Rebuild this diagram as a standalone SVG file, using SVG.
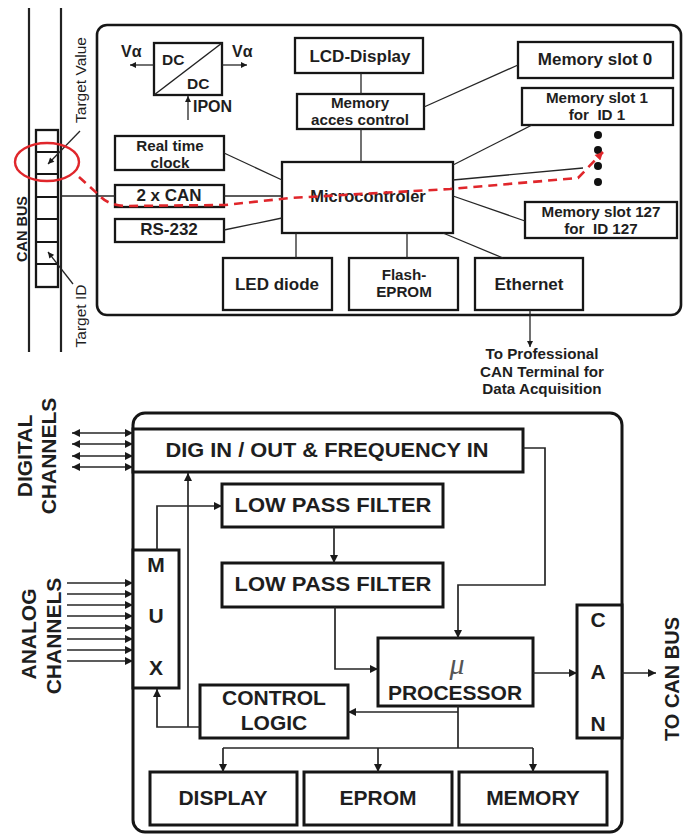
<svg xmlns="http://www.w3.org/2000/svg" width="684" height="836" viewBox="0 0 684 836">
<style>
.box{fill:#fff;stroke:#161616;stroke-width:2.3}
.bbox{fill:#fff;stroke:#161616;stroke-width:3}
.frame{fill:none;stroke:#161616;stroke-width:2.6}
.ln{fill:none;stroke:#262626;stroke-width:1.3}
.bl{fill:none;stroke:#262626;stroke-width:1.7}
.t{font-family:"Liberation Sans",Arial,sans-serif;font-weight:bold;font-size:17px;fill:#1e1e1e;text-anchor:middle}
.t2{font-size:15.2px}
.ts{text-anchor:start}
.tr{font-weight:normal;font-size:15px}
.b{font-size:21px}
.red{fill:none;stroke:#e0262b;stroke-width:2.6;stroke-dasharray:9 6}
</style>
<defs>
<marker id="a" viewBox="0 0 10 10" refX="10" refY="5" markerWidth="9" markerHeight="8" markerUnits="userSpaceOnUse" orient="auto-start-reverse"><path d="M0,0 L10,5 L0,10 z" fill="#1a1a1a"/></marker>
<marker id="as" viewBox="0 0 10 10" refX="10" refY="5" markerWidth="7" markerHeight="6" markerUnits="userSpaceOnUse" orient="auto-start-reverse"><path d="M0,0 L10,5 L0,10 z" fill="#1a1a1a"/></marker>
<marker id="ar" viewBox="0 0 10 10" refX="10" refY="5" markerWidth="9" markerHeight="8" markerUnits="userSpaceOnUse" orient="auto"><path d="M0,0 L10,5 L0,10 z" fill="#e0262b"/></marker>
</defs>

<!-- ===== TOP DIAGRAM ===== -->
<g id="can-bus-lines">
<line x1="29" y1="8" x2="29" y2="352" stroke="#222" stroke-width="2.2"/>
<line x1="61" y1="8" x2="61" y2="352" stroke="#222" stroke-width="2.2"/>
<text class="t" transform="translate(27,229) rotate(-90)" style="font-size:14.5px">CAN BUS</text>
</g>
<g id="register">
<rect x="36" y="130" width="22" height="157" class="box" stroke-width="2"/>
<path d="M36,152H58M36,174H58M36,197H58M36,219H58M36,242H58M36,264H58" stroke="#161616" stroke-width="1.8"/>
</g>
<g id="target-value">
<text class="t tr" transform="translate(86,80) rotate(-90)" style="font-size:15.5px">Target Value</text>
</g>
<g id="target-id">
<text class="t tr" transform="translate(86,316) rotate(-90)" style="font-size:15.5px">Target ID</text>
</g>
<g id="top-frame">
<rect x="97" y="25" width="584" height="290" rx="10" class="frame"/>
</g>
<g id="dcdc">
<rect x="154" y="43" width="68" height="52" class="box" stroke-width="2"/>
<line x1="154" y1="95" x2="222" y2="43" stroke="#222" stroke-width="1.5"/>
<text class="t ts" x="162" y="65" style="font-size:15.5px">DC</text>
<text class="t ts" x="187" y="89" style="font-size:15.5px">DC</text>
<text class="t ts" x="121" y="57" style="font-size:16px">Vα</text>
<text class="t ts" x="232" y="57" style="font-size:16px">Vα</text>
<text class="t ts" x="193" y="112" style="font-size:16px">IPON</text>
</g>
<g id="rtc"><rect x="115" y="136" width="109" height="34" class="box"/><text class="t t2" x="170" y="151">Real time</text><text class="t t2" x="170" y="168">clock</text></g>
<g id="can2"><rect x="115" y="185" width="109" height="22" class="box"/><text class="t" x="169" y="201">2 x CAN</text></g>
<g id="rs232"><rect x="115" y="219" width="109" height="23" class="box"/><text class="t" x="169" y="235">RS-232</text></g>
<g id="lcd"><rect x="295" y="38" width="128" height="35" class="box"/><text class="t" x="360" y="62">LCD-Display</text></g>
<g id="mac"><rect x="297" y="94" width="127" height="35" class="box"/><text class="t t2" x="360" y="108">Memory</text><text class="t t2" x="360" y="125">acces control</text></g>
<g id="micro"><rect x="282" y="162" width="171" height="71" class="box"/><text class="t" x="368" y="202" style="font-size:16.5px">Microcontroler</text></g>
<g id="slot0"><rect x="518" y="42" width="155" height="36" class="box"/><text class="t" x="595" y="65">Memory slot 0</text></g>
<g id="slot1"><rect x="522" y="88" width="151" height="37" class="box"/><text class="t t2" x="597" y="103">Memory slot 1</text><text class="t t2" x="597" y="120" xml:space="preserve">for  ID 1</text></g>
<g id="dots" fill="#111"><circle cx="598" cy="135" r="4"/><circle cx="598" cy="150" r="4"/><circle cx="598" cy="166" r="4"/><circle cx="598" cy="182" r="4"/></g>
<g id="slot127"><rect x="525" y="202" width="152" height="36" class="box"/><text class="t t2" x="601" y="217">Memory slot 127</text><text class="t t2" x="601" y="234" xml:space="preserve">for  ID 127</text></g>
<g id="led"><rect x="223" y="258" width="109" height="52" class="box"/><text class="t" x="277" y="290">LED diode</text></g>
<g id="flash"><rect x="349" y="258" width="109" height="52" class="box"/><text class="t t2" x="404" y="280">Flash-</text><text class="t t2" x="404" y="297">EPROM</text></g>
<g id="ethernet"><rect x="475" y="258" width="108" height="52" class="box"/><text class="t" x="529" y="290">Ethernet</text></g>
<g id="terminal"><text class="t t2" x="542" y="359">To Professional</text><text class="t t2" x="542" y="376.5">CAN Terminal for</text><text class="t t2" x="542" y="394">Data Acquisition</text></g>

<g id="top-connectors">
<line x1="154" y1="65" x2="130" y2="65" class="ln" marker-end="url(#as)"/>
<line x1="222" y1="65" x2="247" y2="65" class="ln" marker-end="url(#as)"/>
<line x1="188" y1="120" x2="188" y2="96" class="ln" marker-end="url(#as)"/>
<line x1="80" y1="131" x2="48" y2="164" class="ln" marker-end="url(#as)"/>
<line x1="73" y1="284" x2="48" y2="252" class="ln" marker-end="url(#as)"/>
<line x1="61" y1="196" x2="115" y2="196" class="ln"/>
<line x1="224" y1="153" x2="282" y2="180" class="ln"/>
<line x1="224" y1="196" x2="282" y2="196" class="ln"/>
<line x1="224" y1="230" x2="282" y2="218" class="ln"/>
<line x1="361" y1="73" x2="361" y2="94" class="ln"/>
<line x1="361" y1="129" x2="361" y2="162" class="ln"/>
<line x1="424" y1="107" x2="518" y2="65" class="ln"/>
<line x1="532" y1="125" x2="453" y2="165" class="ln"/>
<line x1="453" y1="180" x2="583" y2="168" class="ln"/>
<line x1="453" y1="196" x2="525" y2="221" class="ln"/>
<line x1="443" y1="233" x2="503" y2="258" class="ln"/>
<line x1="296" y1="233" x2="296" y2="258" class="ln"/>
<line x1="407" y1="233" x2="407" y2="258" class="ln"/>
<line x1="530" y1="310" x2="530" y2="347" class="ln" marker-end="url(#as)"/>
</g>
<g id="highlight">
<ellipse cx="47" cy="162" rx="32" ry="19" fill="none" stroke="#e0262b" stroke-width="2.4"/>
<path d="M79,177 L100,196 Q108,205 125,206 L225,205 L290,198 L450,189 L578,178 L603,152" class="red" marker-end="url(#ar)"/>
</g>

<!-- ===== BOTTOM DIAGRAM ===== -->
<g id="bottom-frame"><rect x="133" y="413" width="489" height="419" rx="12" class="bbox" style="fill:none"/></g>
<g id="digital-label">
<text class="t b" transform="translate(32,456) rotate(-90)">DIGITAL</text>
<text class="t b" transform="translate(56,456) rotate(-90)">CHANNELS</text>
</g>
<g id="analog-label">
<text class="t b" transform="translate(36,634) rotate(-90)">ANALOG</text>
<text class="t b" transform="translate(61,636) rotate(-90)">CHANNELS</text>
</g>
<g id="digio"><rect x="133" y="429" width="390" height="43" class="bbox"/><text class="t b" x="327" y="457" textLength="323" lengthAdjust="spacingAndGlyphs">DIG IN / OUT &amp; FREQUENCY IN</text></g>
<g id="lpf1"><rect x="222" y="484" width="221" height="43" class="bbox"/><text class="t b" x="333" y="512" textLength="197" lengthAdjust="spacingAndGlyphs">LOW PASS FILTER</text></g>
<g id="lpf2"><rect x="222" y="563" width="221" height="44" class="bbox"/><text class="t b" x="333" y="591" textLength="197" lengthAdjust="spacingAndGlyphs">LOW PASS FILTER</text></g>
<g id="mux"><rect x="133" y="550" width="46" height="138" class="bbox"/><text class="t b" x="156" y="572">M</text><text class="t b" x="156" y="623">U</text><text class="t b" x="156" y="675">X</text></g>
<g id="processor"><rect x="378" y="638" width="155" height="68" class="bbox"/><text x="457" y="674" style="font-family:'Liberation Serif',serif;font-style:italic;font-size:30px;fill:#555;text-anchor:middle">μ</text><text class="t b" x="455" y="700">PROCESSOR</text></g>
<g id="can"><rect x="577" y="605" width="45" height="133" class="bbox"/><text class="t b" x="598" y="627">C</text><text class="t b" x="598" y="679">A</text><text class="t b" x="598" y="731">N</text></g>
<g id="control"><rect x="200" y="685" width="148" height="53" class="bbox"/><text class="t b" x="274" y="705">CONTROL</text><text class="t b" x="274" y="730">LOGIC</text></g>
<g id="display"><rect x="150" y="772" width="147" height="53" class="bbox"/><text class="t b" x="223" y="805">DISPLAY</text></g>
<g id="eprom"><rect x="304" y="772" width="148" height="53" class="bbox"/><text class="t b" x="378" y="805">EPROM</text></g>
<g id="memory"><rect x="459" y="772" width="148" height="53" class="bbox"/><text class="t b" x="533" y="805">MEMORY</text></g>
<g id="to-can-bus"><text class="t" transform="translate(679,679) rotate(-90)" style="font-size:20px">TO CAN BUS</text></g>

<g id="bottom-connectors">
<line x1="72" y1="433" x2="133" y2="433" class="bl" marker-start="url(#a)" marker-end="url(#a)"/>
<line x1="72" y1="444" x2="133" y2="444" class="bl" marker-start="url(#a)" marker-end="url(#a)"/>
<line x1="72" y1="456" x2="133" y2="456" class="bl" marker-start="url(#a)" marker-end="url(#a)"/>
<line x1="72" y1="467" x2="133" y2="467" class="bl" marker-start="url(#a)" marker-end="url(#a)"/>
<line x1="67" y1="583" x2="133" y2="583" class="bl" marker-end="url(#a)"/>
<line x1="67" y1="594" x2="133" y2="594" class="bl" marker-end="url(#a)"/>
<line x1="67" y1="605" x2="133" y2="605" class="bl" marker-end="url(#a)"/>
<line x1="67" y1="616" x2="133" y2="616" class="bl" marker-end="url(#a)"/>
<line x1="67" y1="628" x2="133" y2="628" class="bl" marker-end="url(#a)"/>
<line x1="67" y1="639" x2="133" y2="639" class="bl" marker-end="url(#a)"/>
<line x1="67" y1="650" x2="133" y2="650" class="bl" marker-end="url(#a)"/>
<line x1="67" y1="661" x2="133" y2="661" class="bl" marker-end="url(#a)"/>
<path d="M157,550 V506 H222" class="bl" marker-end="url(#a)"/>
<path d="M200,727 H157 V689" class="bl" marker-end="url(#a)"/>
<path d="M188,727 V473" class="bl" marker-end="url(#a)"/>
<path d="M334,527 V563" class="bl" marker-end="url(#a)"/>
<path d="M335,607 V669 H378" class="bl" marker-end="url(#a)"/>
<path d="M523,448 H545 V585 H458 V638" class="bl" marker-end="url(#a)"/>
<path d="M533,673 H577" class="bl" marker-end="url(#a)"/>
<path d="M622,673 H656" class="bl" marker-end="url(#a)"/>
<path d="M458,706 V748" class="bl"/>
<path d="M458,712 H348" class="bl" marker-end="url(#a)"/>
<path d="M223,748 H533" class="bl"/>
<path d="M223,748 V772" class="bl" marker-end="url(#a)"/>
<path d="M378,748 V772" class="bl" marker-end="url(#a)"/>
<path d="M533,748 V772" class="bl" marker-end="url(#a)"/>
</g>
</svg>
